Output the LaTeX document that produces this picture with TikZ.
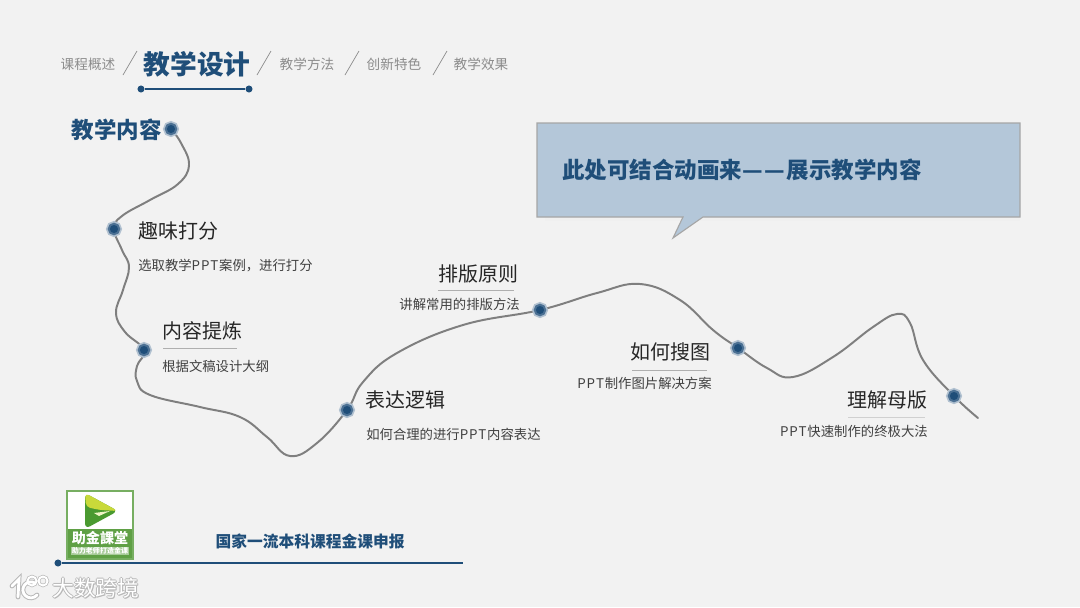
\documentclass[tikz,border=0pt]{standalone}
\usepackage{fontspec}
\setmainfont{Noto Sans CJK SC}
\usetikzlibrary{positioning}
\definecolor{paper}{HTML}{F2F2F2}
\definecolor{navy}{HTML}{1F4E79}
\definecolor{ink}{HTML}{262626}
\definecolor{mutedink}{HTML}{404040}
\definecolor{navgray}{HTML}{8C8C8C}
\definecolor{roadgray}{HTML}{7F7F7F}
\definecolor{bubble}{HTML}{B4C7D9}
\definecolor{leafgreen}{HTML}{5FA045}
\definecolor{leafdark}{HTML}{4A9A30}
\definecolor{leaflime}{HTML}{C9D93A}
\newcommand{\pptword}{P\kern0.6pt P\kern0.6pt T\kern0.6pt}
\tikzset{
  navtext/.style={font=\fontsize{9.7}{10}\selectfont,color=navgray},
  slash/.style={draw=navgray,line width=0.5pt},
  roadline/.style={draw=roadgray,line width=1.4pt,line cap=round},
  stopdot/.style={circle,fill=navy,inner sep=0pt,minimum size=7.5pt,draw=navy!80,line width=1.4pt,
    preaction={draw=navy!35,line width=3.8pt}},
  barend/.style={circle,fill=navy,inner sep=0pt,minimum size=5pt},
  headtext/.style={font=\fontsize{14.2}{15}\selectfont,color=ink,inner sep=0pt},
  subtext/.style={font=\fontsize{9.5}{10}\selectfont,color=mutedink,inner sep=0pt},
  rulemark/.style={draw=navgray!70,line width=0.4pt},
  marktext/.style={font=\fontsize{15.5}{16}\selectfont,inner sep=0pt,anchor=west},
}
\begin{document}
\begin{tikzpicture}[x=0.025cm,y=-0.025cm]
  \useasboundingbox (0,0) rectangle (1080,607);
  \fill[paper] (0,0) rectangle (1080,607);
  \node[navtext] at (88,64) {课程概述};
  \node[navtext] at (307,64) {教学方法};
  \node[navtext] at (394,64) {创新特色};
  \node[navtext] at (481,64) {教学效果};
  \foreach \x in {123,257,345,433}{
    \draw[slash] (\x,75) -- ++(14,-24);}
  \node[font=\bfseries\fontsize{19}{20}\selectfont,color=navy] at (197,64) {教学设计};
  \node[barend] (navleft) at (141,89) {};
  \node[barend] (navright) at (249,89) {};
  \draw[navy,line width=1pt] (navleft) -- (navright);

  \fill[black!6] (545,217) rectangle (1020,221);
  \draw[fill=bubble,draw=black!35,line width=0.8pt] (537,123) -- (1020,123) -- (1020,217) -- (703,217) -- (673,238) -- (683,217) -- (537,217) -- cycle;
  \node[font=\bfseries\fontsize{16}{17}\selectfont,color=navy,anchor=west,inner sep=0pt] at (562,170) {此处可结合动画来—\kern1pt—\kern1.5pt 展示教学内容};

  \coordinate (stopA) at (171,129);
  \coordinate (stopB) at (114,229);
  \coordinate (stopC) at (144,350);
  \coordinate (stopD) at (347,410);
  \coordinate (stopE) at (540,310);
  \coordinate (stopF) at (738,348);
  \coordinate (stopG) at (954,396);
  \coordinate (roadend) at (978,418);
  \draw[roadline] plot[smooth,tension=0.7] coordinates {(stopA) (181,143) (189,165) (178,184) (150,200) (122,216) (stopB)
    (122,250) (129,267) (123,290) (116,313) (125,332) (stopC)
    (137,366) (137,381) (150,395) (200,407) (240,417) (267,437) (290,456) (317,443) (stopD)
    (363,382) (397,353) (463,325) (stopE)
    (597,293) (640,284) (680,300) (713,330) (stopF)
    (767,368) (793,377) (833,357) (873,327) (897,314) (910,323) (923,360) (stopG) (roadend)};
  \foreach \n in {A,B,C,D,E,F,G}{
    \node[stopdot] (dot\n) at (stop\n) {};}

  \node[font=\bfseries\fontsize{16}{17}\selectfont,color=navy,anchor=east,inner sep=0pt] at (162,130) {教学内容};

  \node[headtext,anchor=west] (headB) at (138,231) {趣味打分};
  \node[subtext,anchor=west] (subB) at (138,266) {选取教学\pptword 案例，进行打分};
  \node[headtext,anchor=west] (headC) at (162,331) {内容提炼};
  \node[subtext,anchor=west] (subC) at (162,366) {根据文稿设计大纲};
  \draw[rulemark] (163,348) -- (237,348);
  \node[headtext,anchor=west] (headD) at (365,400) {表达逻辑};
  \node[subtext,anchor=west] (subD) at (366,434) {如何合理的进行\pptword 内容表达};
  \node[headtext,anchor=east] (headE) at (519,274) {排版原则};
  \node[subtext,anchor=east] (subE) at (520,304) {讲解常用的排版方法};
  \draw[rulemark] (438,290) -- (514,290);
  \node[headtext,anchor=east] (headF) at (711,352) {如何搜图};
  \node[subtext,anchor=east] (subF) at (712,383) {\pptword 制作图片解决方案};
  \draw[rulemark] (632,370) -- (707,370);
  \node[headtext,anchor=east] (headG) at (928,400) {理解母版};
  \node[subtext,anchor=east] (subG) at (928,431) {\pptword 快速制作的终极大法};
  \draw[rulemark,draw opacity=0.5] (848,417) -- (925,417);

  \fill[white] (67,491) rectangle (133,559);
  \fill[leafgreen] (67,529) rectangle (133,559);
  \draw[leafgreen!85,line width=0.8pt] (67,491) rectangle (133,559);
  \fill[leafdark,rounded corners=4pt] (85,493) -- (118,511) -- (85,529) -- cycle;
  \fill[leaflime,rounded corners=3pt] (85,493) -- (118,511) -- (100,510) -- (86,507) -- cycle;
  \fill[white!70!leaflime] (94,513) -- (110,511) -- (99,516) -- cycle;
  \fill[leafgreen!55!white] (71,547) rectangle (129,555);
  \node[font=\bfseries\fontsize{10}{10}\selectfont,color=white,inner sep=0pt] (logotext) at (100,538) {助金課堂};
  \node[font=\bfseries\fontsize{5}{5}\selectfont,color=white,inner sep=0pt] (logosub) at (100,551) {助力老师打造金课};

  \node[font=\bfseries\fontsize{11.2}{12}\selectfont,color=navy,inner sep=0pt] (footer) at (310,541) {国家一流本科课程金课申报};
  \node[barend] (footdot) at (58,563) {};
  \coordinate (footend) at (463,563);
  \draw[navy,line width=1pt] (footdot) -- (footend);

  \foreach \dx/\dy in {-1/0,1/0,0/-1,0/1,1/1}{
    \node[marktext,color=black!28] at (52+\dx,588+\dy) {大数跨境};}
  \node[marktext,color=white] (mark) at (52,588) {大数跨境};
  \foreach \c/\w in {black!28/3.4,white/2}{
    \draw[\c,line width=\w pt,line cap=round] (12,586) -- (19,579) -- (18,597);
    \draw[\c,line width=\w pt,line cap=round] (37,595) arc (40:300:8);
    \draw[\c,line width=\w*0.7 pt] (32,581) circle (4.5);
    \draw[\c,line width=\w*0.7 pt] (43,581) circle (4.5);}
\end{tikzpicture}
\end{document}
